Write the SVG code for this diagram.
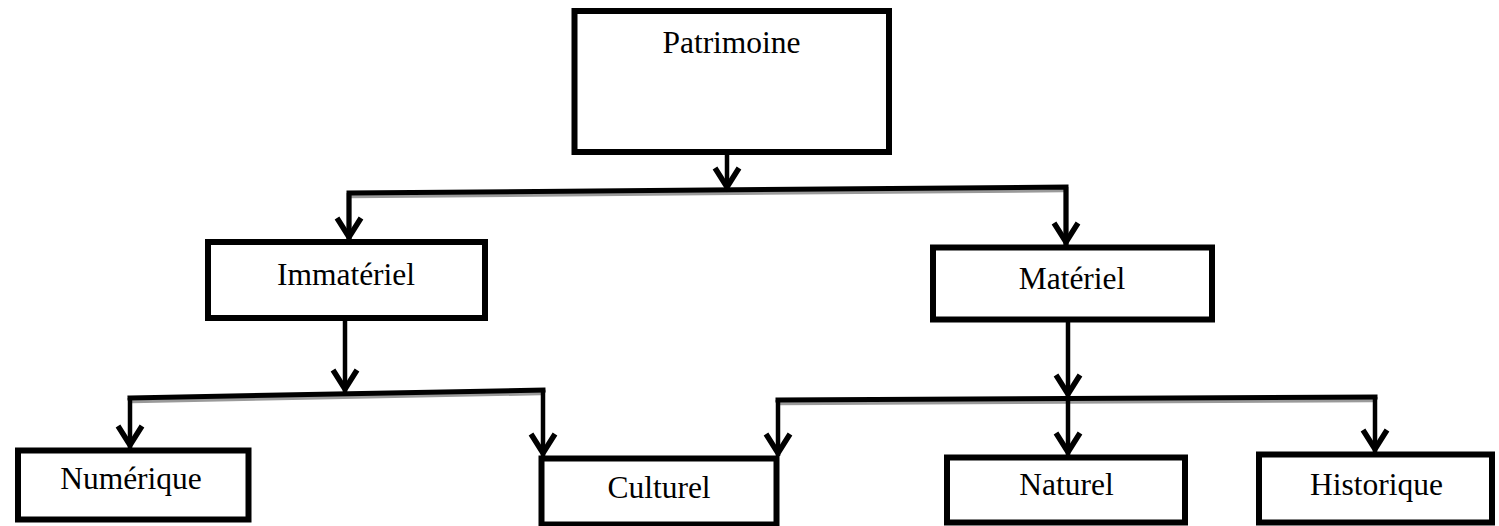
<svg xmlns="http://www.w3.org/2000/svg" width="1499" height="526" viewBox="0 0 1499 526">
  <style>
    .box { fill: #fff; stroke: #000; stroke-width: 6; }
    .lbl { font-family: "Liberation Serif", "Times New Roman", serif; font-size: 31.5px; fill: #000; text-anchor: middle; }
    .con { fill: none; stroke: #000; stroke-width: 5; stroke-linecap: square; }
    .arr { fill: none; stroke: #000; stroke-width: 4.5; marker-end: url(#head); }
    .shadow { fill: none; stroke: #9a9a9a; stroke-width: 3.5; }
  </style>
  <defs>
    <marker id="head" markerUnits="userSpaceOnUse" markerWidth="40" markerHeight="40" viewBox="-25 -20 40 40" refX="0" refY="0" orient="auto" overflow="visible">
      <path d="M-22,-12 L-3,0 L-22,12" fill="none" stroke="#000" stroke-width="5.5" stroke-linejoin="miter"/>
    </marker>
  </defs>

  <g id="connectors">
    <line class="shadow" x1="349" y1="196.5" x2="1064" y2="190.5"/>
    <line class="shadow" x1="132" y1="401.5" x2="541" y2="393.5"/>
    <line class="shadow" x1="780" y1="403.5" x2="1373" y2="400.5"/>

    <line class="arr" x1="727" y1="155" x2="727" y2="190"/>
    <polyline class="con" points="349,240 349,193 1066,187 1066,245"/>
    <line class="arr" x1="349" y1="193" x2="349" y2="240"/>
    <line class="arr" x1="1066" y1="187" x2="1066" y2="245"/>

    <line class="arr" x1="345" y1="321" x2="345" y2="392"/>
    <polyline class="con" points="130,398 543,390"/>
    <line class="arr" x1="130" y1="398" x2="130" y2="448"/>
    <line class="arr" x1="543" y1="390" x2="543" y2="456"/>

    <line class="arr" x1="1068" y1="322" x2="1068" y2="397"/>
    <polyline class="con" points="778,400 1375,397"/>
    <line class="arr" x1="778" y1="400" x2="778" y2="456"/>
    <line class="arr" x1="1068" y1="398" x2="1068" y2="455"/>
    <line class="arr" x1="1375" y1="397" x2="1375" y2="452"/>
  </g>

  <g id="patrimoine">
    <rect class="box" x="574.5" y="11" width="314.5" height="141"/>
    <text class="lbl" x="731.5" y="53">Patrimoine</text>
  </g>
  <g id="immateriel">
    <rect class="box" x="208" y="242" width="277" height="76"/>
    <text class="lbl" x="346" y="285">Immatériel</text>
  </g>
  <g id="materiel">
    <rect class="box" x="933" y="247.5" width="279" height="72"/>
    <text class="lbl" x="1072" y="289">Matériel</text>
  </g>
  <g id="numerique">
    <rect class="box" x="18" y="450.5" width="230.5" height="69"/>
    <text class="lbl" x="131" y="489">Numérique</text>
  </g>
  <g id="culturel">
    <rect class="box" x="541.5" y="458.5" width="235" height="66"/>
    <text class="lbl" x="659" y="498">Culturel</text>
  </g>
  <g id="naturel">
    <rect class="box" x="947" y="457.5" width="238" height="65"/>
    <text class="lbl" x="1066.5" y="495">Naturel</text>
  </g>
  <g id="historique">
    <rect class="box" x="1259" y="454.5" width="233" height="68"/>
    <text class="lbl" x="1376.5" y="495">Historique</text>
  </g>
</svg>
